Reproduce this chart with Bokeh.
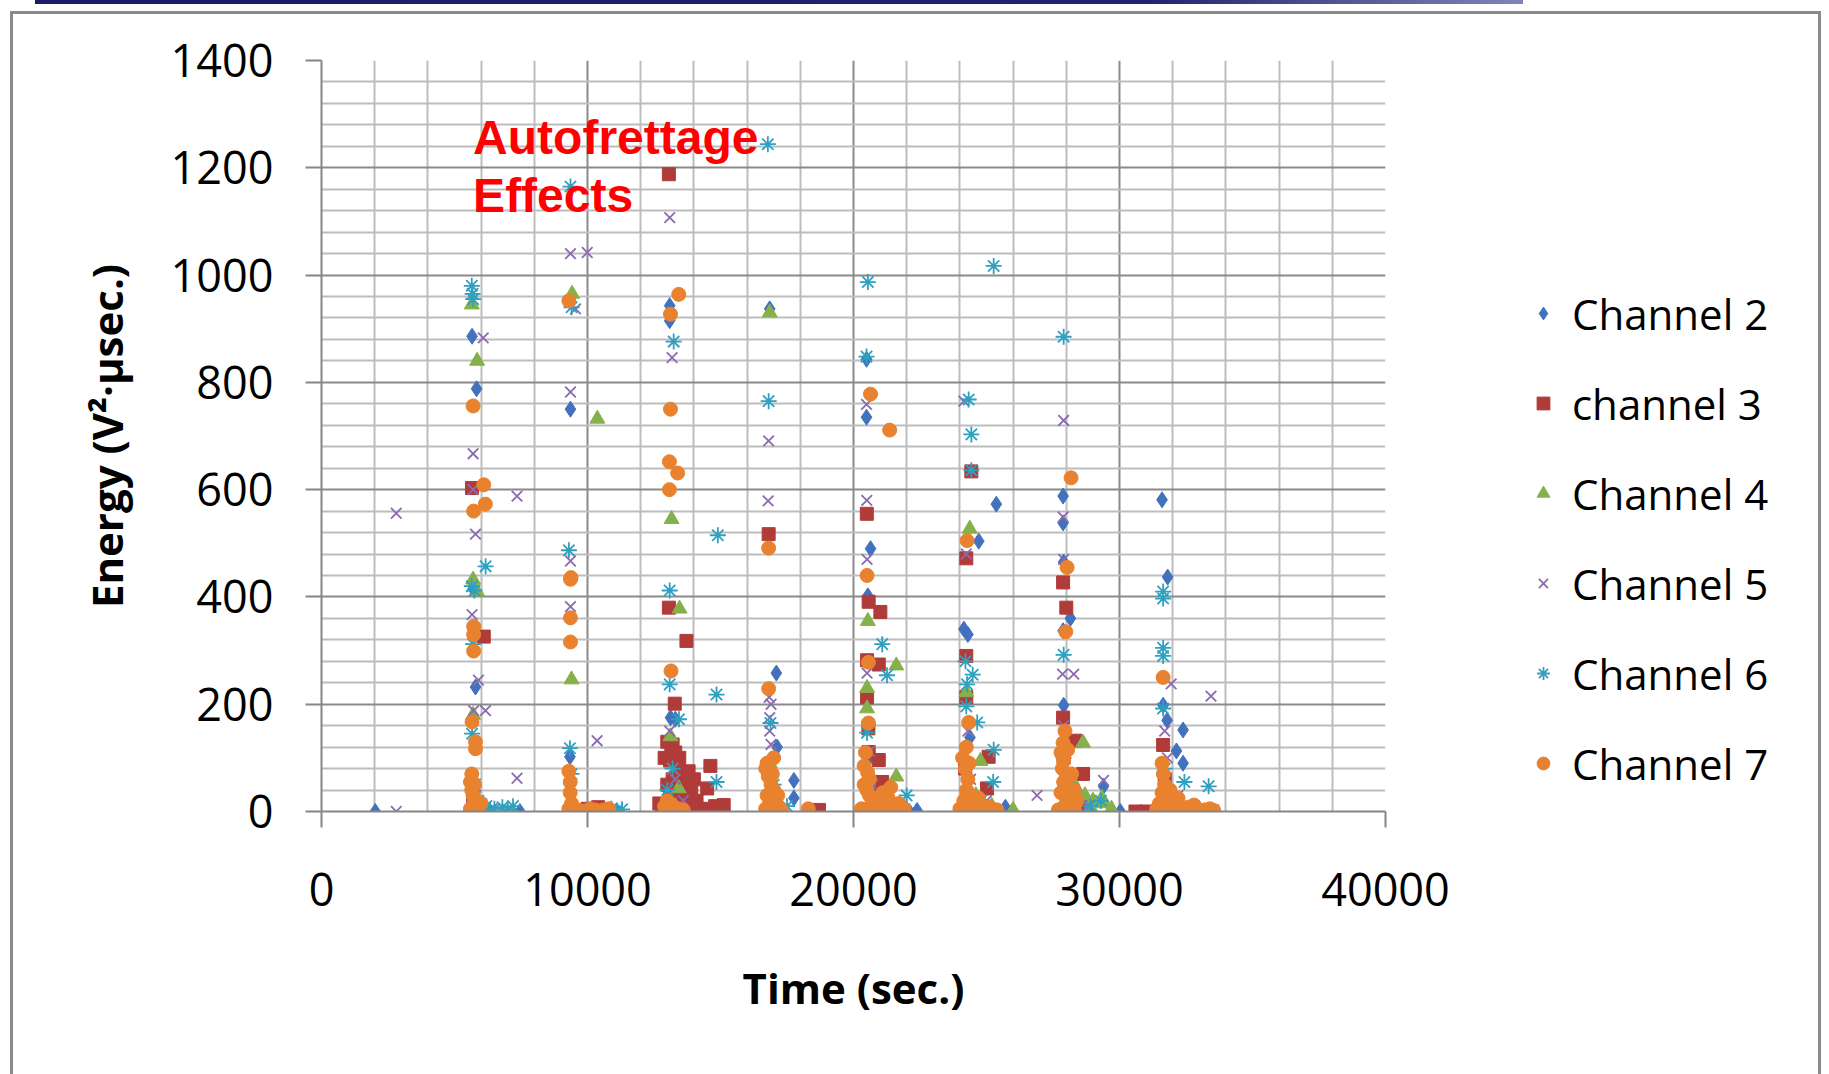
from bokeh.plotting import figure
from bokeh.layouts import row
from bokeh.models import (FixedTicker, Legend, LegendItem, Label, Range1d, ColumnDataSource)
from bokeh.embed import file_html
from bokeh.resources import INLINE

# ---------------- data ----------------
x_ticks = [0, 10000, 20000, 30000, 40000]
y_ticks = [0, 200, 400, 600, 800, 1000, 1200, 1400]
x_minor = [v for v in range(0, 40001, 2000) if v % 10000]
y_minor = [v for v in range(0, 1401, 40) if v % 200]

ch2_x = [2020, 5660, 5830, 5700, 5790, 5650, 5750, 5900, 6300, 7460,
         9360, 9340, 9450, 10800, 11100,
         13090, 13090, 13120, 13300, 13200, 13500,
         16850, 17100, 17130, 16900, 17760, 17760, 17300,
         20490, 20490, 20640, 20540, 20600, 20700, 21300, 22100, 22390,
         24150, 24300, 24710, 25370, 24380, 24300, 25710, 24500,
         27880, 27880, 27900, 28155, 27880, 27900, 28000, 29400, 30030, 28800,
         31600, 31810, 31640, 31790, 32390, 32140, 32390, 31700, 32000, 33000, 33500]
ch2_y = [0, 886, 788, 415, 232, 30, 10, 5, 3, 0,
         750, 102, 10, 3, 0,
         943, 915, 175, 172, 60, 10,
         937, 258, 120, 50, 58, 25, 5,
         843, 735, 490, 402, 100, 40, 10, 0, 2,
         340, 330, 504, 573, 138, 60, 8, 20,
         588, 538, 465, 360, 337, 198, 60, 47, 0, 10,
         581, 437, 198, 170, 152, 113, 90, 50, 10, 5, 0]

ch3_x = [5660, 6100, 5700, 5800,
         9600, 10000, 10200, 10400, 10600,
         13060, 13060, 13720, 13280, 13000, 13200, 13300, 13100, 13400, 13600,
         13800, 14000, 13200, 13500, 13900, 13100, 13700, 14100, 13400, 14620,
         14500, 15120, 12700, 14800, 14300, 13600, 13000,
         12900, 13150, 13450, 13750, 13050, 13900, 14000, 12800, 13300, 13600,
         16810, 17000, 18700,
         20500, 20570, 21010, 20510, 20950, 20510, 20560, 20570, 20950, 21080, 20700, 21300,
         24430, 24240, 24240, 24240, 25080, 25020, 24200, 24500,
         27880, 28000, 27880, 28340, 28630, 27900, 28100, 28500,
         31640, 30600, 31000, 31700, 32000]
ch3_y = [603, 326, 20, 10,
         2, 5, 3, 8, 2,
         1188, 380, 318, 201, 130, 125, 110, 95, 80, 70,
         75, 60, 60, 45, 40, 30, 25, 20, 10, 85,
         43, 12, 15, 10, 5, 5, 50,
         100, 105, 100, 50, 10, 15, 5, 5, 35, 55,
         517, 5, 3,
         555, 391, 372, 282, 274, 213, 155, 111, 96, 55, 30, 5,
         634, 472, 290, 213, 102, 43, 80, 20,
         427, 380, 175, 132, 70, 100, 40, 10,
         124, 0, 0, 60, 20]

ch4_x = [5650, 5850, 5700, 5850, 5700, 5700, 5900, 6100,
         9420, 10370, 9400, 9500,
         13160, 13460, 13120, 13430, 13300,
         16850, 16850, 17100,
         20540, 21610, 20510, 20510, 21610, 20700, 21800,
         24370, 24240, 24770, 24600, 25200, 26000,
         28630, 28400, 28700, 29000, 29400, 29700, 28200, 28900, 29340,
         31700, 32000]
ch4_y = [945, 840, 432, 410, 180, 43, 20, 5,
         965, 732, 246, 10,
         545, 378, 140, 43, 10,
         930, 90, 10,
         355, 272, 230, 192, 65, 20, 5,
         527, 222, 94, 30, 10, 3,
         128, 40, 30, 20, 15, 5, 60, 8, 25,
         20, 5]

ch5_x = [2810, 2810, 6080, 5700, 5700, 7350, 5790, 5660, 5900, 5720, 6165, 7350, 5800, 6400,
         9360, 9990, 9550, 9360, 9360, 9360, 10360, 9700, 9900,
         13090, 13180, 13090, 13300, 13600,
         16810, 16790, 16830, 16900, 16850, 16850, 16900, 17000, 17400,
         20490, 20500, 20510, 20510, 20600, 20700, 21000,
         24150, 24240, 26900, 24300, 24400, 25000,
         27900, 27880, 27900, 27860, 28280, 27900, 29400, 28200, 28800,
         31940, 33440, 31700, 31800, 32200, 33540]
ch5_y = [556, 0, 883, 667, 600, 588, 517, 367, 245, 188, 188, 62, 30, 5,
         1040, 1042, 937, 782, 467, 382, 132, 5, 2,
         1107, 846, 150, 60, 20,
         691, 579, 213, 200, 175, 150, 125, 40, 5,
         759, 580, 470, 258, 112, 50, 10,
         765, 480, 30, 150, 60, 20,
         729, 549, 470, 256, 256, 160, 58, 30, 10,
         238, 215, 150, 100, 30, 3]

ch6_x = [5650, 5680, 5700, 5650, 5750, 6170, 5700, 5660, 5700, 5900, 6200, 6500, 6800, 7000, 7200, 6000,
         9360, 9400, 9300, 9340, 9400, 10900, 11100, 11300,
         13240, 14900, 13090, 13090, 14850, 13440, 14850, 13200, 13000,
         16780, 16810, 16880, 17000, 17500,
         20540, 20490, 21080, 21260, 20510, 22000, 20600, 21500,
         25270, 24330, 24430, 24430, 24210, 24480, 24270, 24240, 24650, 25270, 25250, 24800,
         27900, 27900, 27900, 28300, 28900, 29300,
         31640, 31640, 31640, 31640, 31640, 32440, 33350, 31700, 32000]
ch6_y = [980, 965, 955, 420, 412, 457, 312, 145, 60, 20, 10, 5, 8, 3, 10, 2,
         1165, 940, 487, 118, 70, 5, 2, 4,
         876, 515, 412, 237, 218, 172, 55, 80, 40,
         1244, 765, 165, 50, 10,
         987, 848, 312, 254, 147, 30, 60, 10,
         1017, 768, 703, 636, 280, 255, 237, 196, 166, 115, 55, 20,
         885, 292, 100, 40, 10, 20,
         410, 397, 305, 290, 192, 55, 47, 80, 20]

ch7_x = [5700, 6100, 6160, 5720, 5720, 5720, 5720, 5660, 5790, 5790,
         5600, 5650, 5700, 5750, 5800, 5600, 5700, 5900, 6000, 5650, 5750,
         9300, 9360, 9380, 9360, 9360, 9300, 9350, 9350, 9400, 9300, 9500, 9700, 10100, 10300,
         10600, 10800,
         13430, 13120, 13120, 13080, 13390, 13080, 13140, 13000, 13200, 13400, 13100, 13600, 12900,
         16810, 16810, 17000, 16700, 16800, 16900, 17000, 16750, 16850, 17100,
         17200, 16700, 17000, 17300, 18300, 16750, 16950, 17150,
         20640, 21360, 20510, 20560, 20560, 20530, 20400, 20500, 20600, 20700,
         20800, 21000, 21200, 21500, 21800, 20300, 20500, 21300, 20450,
         20400, 20600, 21100, 21400, 21700, 21900,
         24270, 24330, 24240, 24100, 24200, 24300, 24250, 24400, 24150, 24600,
         24800, 25000, 25300, 24000, 24500, 24350, 24700, 25100, 25400,
         28180, 28030, 27980, 27880, 27800, 27900, 27850, 28000, 27900, 28100,
         27800, 28000, 28200, 27900, 28300, 27700, 28100, 27950, 28050, 28200, 28300, 28400,
         31640, 31600, 31650, 31700, 31600, 31800, 32000, 32300, 32600, 32900,
         33200, 31400, 31500, 31700, 31900, 32200, 32800, 33400, 33540]
ch7_y = [756, 609, 573, 560, 345, 330, 299, 167, 130, 117,
         55, 40, 30, 20, 10, 5, 2, 5, 15, 70, 50,
         952, 433, 436, 361, 316, 75, 55, 35, 15, 5, 3, 2, 5, 3,
         3, 5,
         964, 927, 750, 652, 631, 600, 262, 20, 10, 5, 2, 3, 10,
         491, 229, 100, 80, 65, 50, 40, 30, 20, 15,
         8, 5, 3, 2, 5, 90, 70, 30,
         778, 711, 440, 278, 165, 73, 50, 40, 30, 20,
         15, 10, 8, 5, 3, 5, 2, 25, 110,
         85, 60, 35, 45, 15, 5,
         505, 166, 120, 100, 80, 60, 40, 30, 20, 15,
         10, 5, 3, 5, 2, 90, 25, 8, 3,
         622, 455, 335, 128, 110, 95, 80, 70, 55, 45,
         35, 25, 15, 8, 5, 3, 2, 150, 115, 70, 40, 20,
         250, 90, 70, 50, 35, 25, 15, 10, 8, 5,
         3, 5, 15, 2, 40, 25, 12, 5, 2]

series_names = ["Channel 2", "channel 3", "Channel 4", "Channel 5", "Channel 6", "Channel 7"]
series_x = [ch2_x, ch3_x, ch4_x, ch5_x, ch6_x, ch7_x]
series_y = [ch2_y, ch3_y, ch4_y, ch5_y, ch6_y, ch7_y]
series_marker = ["diamond", "square", "triangle", "x", "asterisk", "circle"]
series_color = ["#4272BE", "#B03C3A", "#86B04A", "#8A6AB0", "#2FA0C0", "#E9822F"]
series_size = [16, 13, 15, 15, 16, 14]


def marker_style(mk, col):
    if mk in ("x", "asterisk"):
        return dict(line_color=col, line_width=1.8, fill_color=None)
    return dict(line_color=col, line_width=1, fill_color=col)


# ---------------- main chart ----------------
p = figure(width=1450, height=1074, output_backend="svg", toolbar_location=None,
           x_range=Range1d(0, 40000), y_range=Range1d(0, 1400),
           min_border_left=321, min_border_right=65, min_border_top=60, min_border_bottom=263)
p.background_fill_color = "white"
p.border_fill_alpha = 0
p.outline_line_color = None

p.xaxis.ticker = FixedTicker(ticks=x_ticks, minor_ticks=x_minor)
p.yaxis.ticker = FixedTicker(ticks=y_ticks, minor_ticks=y_minor)

for g in (p.xgrid, p.ygrid):
    g.grid_line_color = "#8A8A8A"
    g.grid_line_width = 2
    g.minor_grid_line_color = "#BDBDBD"
    g.minor_grid_line_width = 2

for ax in (p.xaxis, p.yaxis):
    ax.axis_line_color = "#868686"
    ax.axis_line_width = 2
    ax.major_tick_line_color = "#868686"
    ax.major_tick_line_width = 2
    ax.major_tick_in = 0
    ax.major_tick_out = 16
    ax.minor_tick_line_color = None
    ax.major_label_text_font = "Open Sans"
    ax.major_label_text_font_size = "45px"
    ax.major_label_text_color = "#000000"
    ax.axis_label_text_font = "Open Sans"
    ax.axis_label_text_font_style = "bold"
    ax.axis_label_text_font_size = "42px"
    ax.axis_label_text_color = "#000000"

p.xaxis.major_label_standoff = 45
p.yaxis.major_label_standoff = 32
p.xaxis.axis_label = "Time (sec.)"
p.yaxis.axis_label = "Energy (V²·µsec.)"
p.xaxis.axis_label_standoff = 50
p.yaxis.axis_label_standoff = 33

for xs, ys, mk, col, sz in zip(series_x, series_y, series_marker, series_color, series_size):
    src = ColumnDataSource(data=dict(x=xs, y=ys))
    p.scatter("x", "y", source=src, marker=mk, size=sz, **marker_style(mk, col))

p.add_layout(Label(x=5700, y=1256, text="Autofrettage", text_font="Liberation Sans",
                   text_font_style="bold", text_font_size="48px", text_color="#FF0000",
                   text_baseline="alphabetic"))
p.add_layout(Label(x=5700, y=1148, text="Effects", text_font="Liberation Sans",
                   text_font_style="bold", text_font_size="48px", text_color="#FF0000",
                   text_baseline="alphabetic"))

# ---------------- legend panel ----------------
q = figure(width=379, height=1074, output_backend="svg", toolbar_location=None,
           x_range=Range1d(0, 1), y_range=Range1d(0, 1),
           x_axis_location=None, y_axis_location=None,
           min_border_left=0, min_border_right=0, min_border_top=0, min_border_bottom=0)
q.grid.visible = False
q.outline_line_color = None
q.background_fill_alpha = 0
q.border_fill_alpha = 0

items = []
for name, mk, col in zip(series_names, series_marker, series_color):
    src = ColumnDataSource(data=dict(x=[-5], y=[-5]))
    r = q.scatter("x", "y", source=src, marker=mk, size=12, **marker_style(mk, col))
    items.append(LegendItem(label=name, renderers=[r]))

legend = Legend(items=items, location=(77, 3), orientation="vertical",
                glyph_width=32, glyph_height=90, label_standoff=13, spacing=0,
                padding=0, margin=0, border_line_color=None, background_fill_alpha=0,
                label_text_font="Open Sans", label_text_font_size="42px",
                label_text_color="#000000")
q.add_layout(legend, "center")

layout = row(p, q, spacing=0)
# chart-area border (left/top/right) and the thin top bar, drawn behind the canvases
layout.styles = {
    "background-color": "white",
    "background-image": ("linear-gradient(#8A8A8A, #8A8A8A), linear-gradient(#8A8A8A, #8A8A8A), "
                         "linear-gradient(#8A8A8A, #8A8A8A), "
                         "linear-gradient(to right, #1B1B66, #23236E 75%, #7F86B4)"),
    "background-position": "10px 11px, 10px 11px, 1818px 11px, 35px 0px",
    "background-size": "3px 1100px, 1811px 3px, 3px 1100px, 1488px 4px",
    "background-repeat": "no-repeat",
}

open("out.html", "w").write(file_html(layout, INLINE))
